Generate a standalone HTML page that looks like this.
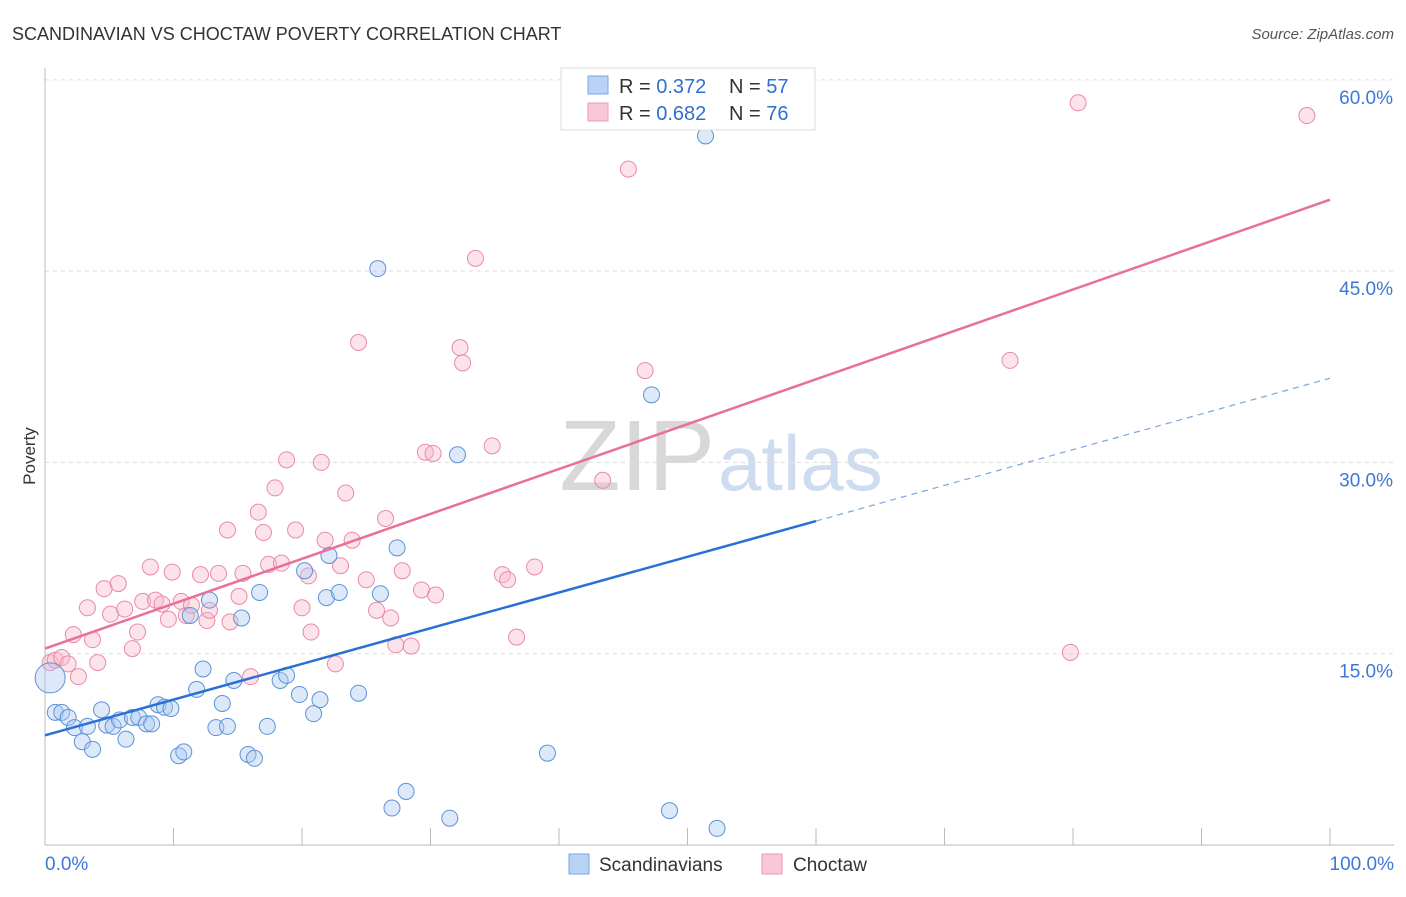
<!DOCTYPE html>
<html><head><meta charset="utf-8"><style>
body{margin:0;background:#fff;font-family:"Liberation Sans",sans-serif;}
svg text{font-family:"Liberation Sans",sans-serif;}
</style></head><body>
<svg id="chart" width="1406" height="892" xmlns="http://www.w3.org/2000/svg">
<text x="12" y="40" font-size="18" fill="#333">SCANDINAVIAN VS CHOCTAW POVERTY CORRELATION CHART</text>
<text x="1394" y="39" font-size="15" fill="#555" font-style="italic" text-anchor="end">Source: ZipAtlas.com</text>
<text x="35" y="456" font-size="17" fill="#333" transform="rotate(-90 35 456)" text-anchor="middle">Poverty</text>
<text x="715" y="490" font-size="100" fill="#d8d8d8" text-anchor="end" font-family="Liberation Serif">ZIP</text>
<text x="718" y="490" font-size="78" fill="#cfdcf0">atlas</text>
<g id="grid"></g><g id="marks"></g>
<g>
<rect x="561" y="68" width="254" height="62" fill="#fff" stroke="#ddd"/>
<rect x="588" y="76" width="20" height="18" fill="#b8d3f5" stroke="#7aa6e0"/>
<rect x="588" y="103" width="20" height="18" fill="#f9c8d7" stroke="#ec9ab4"/>
<text x="619" y="93" font-size="20" fill="#333">R = <tspan fill="#2f6fce">0.372</tspan></text>
<text x="729" y="93" font-size="20" fill="#333">N = <tspan fill="#2f6fce">57</tspan></text>
<text x="619" y="120" font-size="20" fill="#333">R = <tspan fill="#2f6fce">0.682</tspan></text>
<text x="729" y="120" font-size="20" fill="#333">N = <tspan fill="#2f6fce">76</tspan></text>
</g>
<g>
<rect x="569" y="854" width="20" height="20" fill="#b8d3f5" stroke="#7aa6e0"/>
<text x="599" y="871" font-size="19" fill="#333">Scandinavians</text>
<rect x="762" y="854" width="20" height="20" fill="#f9c8d7" stroke="#ec9ab4"/>
<text x="793" y="871" font-size="19" fill="#333">Choctaw</text>
</g>
</svg>
<script>
const yTicks=[15,30,45,60];
const yTickLabels=["15.0%","30.0%","45.0%","60.0%"];
const xTicks=[0,10,20,30,40,50,60,70,80,90,100];
const blueX=[0.4,0.8,1.3,1.8,2.3,2.9,3.3,3.7,4.4,4.8,5.3,5.8,6.3,6.8,7.3,7.9,8.3,8.8,9.3,9.8,10.4,10.8,11.3,11.8,12.3,12.8,13.3,13.8,14.2,14.7,15.3,15.8,16.3,16.7,17.3,18.3,18.8,19.8,20.2,20.9,21.4,21.9,22.1,22.9,24.4,25.9,26.1,27.0,27.4,28.1,31.5,32.1,39.1,47.2,48.6,51.4,52.3];
const blueY=[13.1,10.4,10.4,10.0,9.2,8.1,9.3,7.5,10.6,9.4,9.3,9.8,8.3,10.0,10.0,9.5,9.5,11.0,10.8,10.7,7.0,7.3,18.0,12.2,13.8,19.2,9.2,11.1,9.3,12.9,17.8,7.1,6.8,19.8,9.3,12.9,13.3,11.8,21.5,10.3,11.4,19.4,22.7,19.8,11.9,45.2,19.7,2.9,23.3,4.2,2.1,30.6,7.2,35.3,2.7,55.6,1.3];
const pinkX=[0.4,0.8,1.3,1.8,2.2,2.6,3.3,3.7,4.1,4.6,5.1,5.7,6.2,6.8,7.2,7.6,8.2,8.6,9.1,9.6,9.9,10.6,11.0,11.4,12.1,12.6,12.8,13.5,14.2,14.4,15.1,15.4,16.0,16.6,17.0,17.4,17.9,18.4,18.8,19.5,20.0,20.5,20.7,21.5,21.8,22.6,23.0,23.4,23.9,24.4,25.0,25.8,26.5,26.9,27.3,27.8,28.5,29.3,29.6,30.2,30.4,32.3,32.5,33.5,34.8,35.6,36.0,36.7,38.1,43.4,45.4,46.7,75.1,79.8,80.4,98.2];
const pinkY=[14.3,14.5,14.7,14.2,16.5,13.2,18.6,16.1,14.3,20.1,18.1,20.5,18.5,15.4,16.7,19.1,21.8,19.2,18.9,17.7,21.4,19.1,18.0,18.8,21.2,17.6,18.4,21.3,24.7,17.5,19.5,21.3,13.2,26.1,24.5,22.0,28.0,22.1,30.2,24.7,18.6,21.1,16.7,30.0,23.9,14.2,21.9,27.6,23.9,39.4,20.8,18.4,25.6,17.8,15.7,21.5,15.6,20.0,30.8,30.7,19.6,39.0,37.8,46.0,31.3,21.2,20.8,16.3,21.8,28.6,53.0,37.2,38.0,15.1,58.2,57.2];
const blueTrend=[8.6,25.4,36.6]; // at x=0, 60 (solid end), 100
const pinkTrend=[15.4,50.6];     // at x=0, 100
const NS="http://www.w3.org/2000/svg";
const sx=v=>45+v*12.85, sy=v=>845-v*12.753;
const grid=document.getElementById('grid'), marks=document.getElementById('marks');
function mk(tag,attrs,parent){const e=document.createElementNS(NS,tag);for(const k in attrs)e.setAttribute(k,attrs[k]);parent.appendChild(e);return e;}
yTicks.forEach((t,i)=>{
  const l=mk('line',{x1:45,x2:1394,y1:sy(t),y2:sy(t),stroke:'#ddd','stroke-dasharray':'4 4'},grid);
  
  
  const tx=mk('text',{x:1393,y:sy(t)+24,'font-size':19,fill:'#3b78d8','text-anchor':'end'},grid);
  tx.textContent=yTickLabels[i];
  
  
});
mk('line',{x1:45,x2:45,y1:68,y2:845,stroke:'#bbb'},grid);
mk('line',{x1:45,x2:1394,y1:845,y2:845,stroke:'#bbb'},grid);
xTicks.forEach(t=>{const l=mk('line',{x1:sx(t),x2:sx(t),y1:828,y2:845,stroke:'#bbb'},grid);
  
  });
const x0=mk('text',{x:45,y:870,'font-size':19,fill:'#3b78d8'},grid);x0.textContent='0.0%';


const x1=mk('text',{x:1394,y:870,'font-size':19,fill:'#3b78d8','text-anchor':'end'},grid);x1.textContent='100.0%';


function pts(X,Y,fill,stroke,name,bigFirst){X.forEach((x,i)=>{const r=(bigFirst&&i===0)?15:8;
  const c=mk('circle',{cx:sx(x),cy:sy(Y[i]),r:r,fill:fill,stroke:stroke,'stroke-width':1,'fill-opacity':0.4},marks);
  
  });}
pts(pinkX,pinkY,'#f7b8cb','#e98aa8','choctaw-point',false);
pts(blueX,blueY,'#a9c8f0','#5c92d8','scandinavian-point',true);
const bl=mk('line',{x1:sx(0),y1:sy(blueTrend[0]),x2:sx(60),y2:sy(blueTrend[1]),stroke:'#2a6fd4','stroke-width':2.5},marks);


const bd=mk('line',{x1:sx(60),y1:sy(blueTrend[1]),x2:sx(100),y2:sy(blueTrend[2]),stroke:'#7aa6e0','stroke-width':1.2,'stroke-dasharray':'6 5'},marks);


const pl=mk('line',{x1:sx(0),y1:sy(pinkTrend[0]),x2:sx(100),y2:sy(pinkTrend[1]),stroke:'#e8709a','stroke-width':2.5},marks);


</script>
</body></html>
